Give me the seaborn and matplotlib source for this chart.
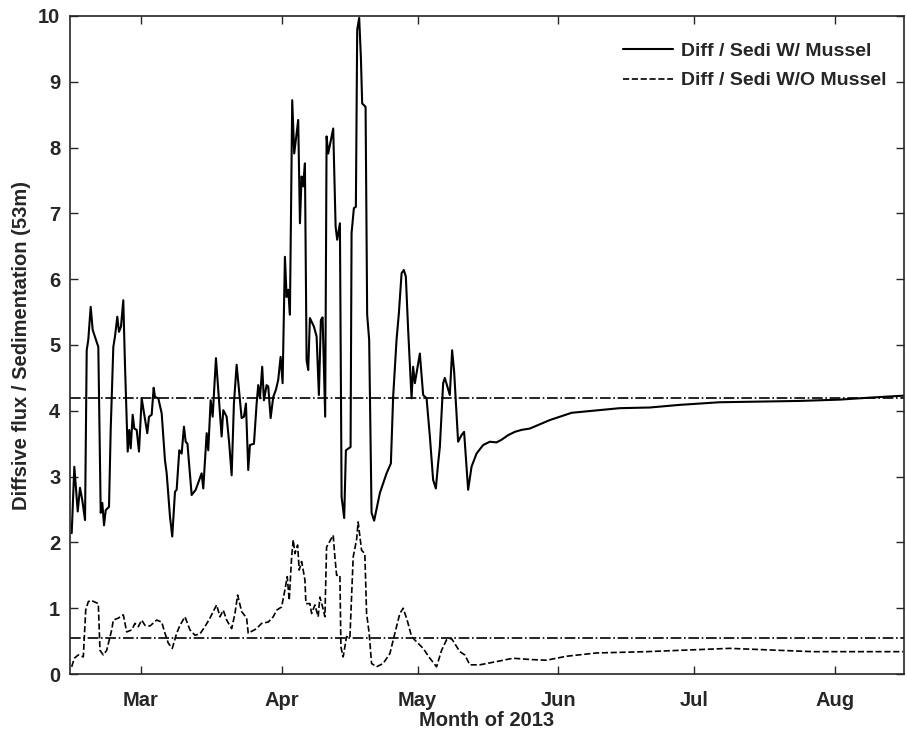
import matplotlib
matplotlib.use("Agg")
import matplotlib.pyplot as plt
import seaborn as sns
import pandas as pd

# day of year 2013 / ratio values
day_mussel = [44.72, 45.3, 46.05, 46.55, 47.06, 47.66, 48.03, 48.38, 48.91, 49.35,
              50.59, 51.12, 51.47, 51.85, 52.22, 52.95, 53.32, 53.9, 54.27, 54.78,
              55.15, 55.59, 56.1, 56.47, 57.07, 57.42, 57.73, 58.17, 58.53, 59.05,
              59.56, 60.16, 60.66, 61.39, 61.77, 62.36, 62.8, 63.09, 63.82, 64.57,
              65.29, 65.67, 66.4, 66.9, 67.5, 67.87, 68.45, 68.97, 69.48, 69.86,
              70.25, 71.18, 72.07, 73.38, 73.74, 74.49, 74.84, 75.37, 75.81, 76.54,
              77.79, 78.15, 78.9, 79.47, 80.0, 80.5, 81.1, 82.2, 82.71, 83.15,
              83.66, 84.03, 84.92, 85.51, 85.86, 86.24, 86.74, 87.12, 87.71, 88.07,
              88.6, 89.17, 89.76, 90.27, 90.8, 91.24, 91.75, 92.12, 92.48, 92.85,
              93.36, 93.8, 94.33, 94.68, 95.06, 95.43, 95.78, 96.16, 96.53, 96.89,
              97.26, 98.14, 98.74, 99.24, 99.68, 100.06, 100.63, 100.94, 101.3, 102.4,
              102.93, 103.28, 103.88, 104.25, 104.82, 105.2, 106.23, 106.45, 106.96, 107.4,
              107.69, 108.13, 108.5, 108.79, 109.54, 109.89, 110.33, 110.86, 111.43, 112.69,
              114.17, 115.12, 115.62, 116.37, 116.88, 117.48, 117.98, 118.42, 118.93, 119.68,
              120.03, 120.41, 121.51, 122.24, 122.99, 123.72, 124.44, 125.04, 125.54, 125.92,
              126.65, 127.02, 128.12, 128.63, 129.07, 129.95, 130.7, 131.27, 132.16, 132.91,
              134.01, 135.47, 136.94, 138.42, 139.52, 140.98, 142.45, 143.93, 145.76, 150.2,
              155.0, 165.6, 172.2, 178.8, 187.6, 196.5, 205.3, 214.1, 220.7, 228.2]
ratio_mussel = [2.14, 3.15, 2.47, 2.83, 2.64, 2.34, 4.92, 5.08, 5.58, 5.23,
                4.97, 2.45, 2.6, 2.26, 2.49, 2.54, 3.71, 4.97, 5.13, 5.43,
                5.2, 5.28, 5.68, 4.7, 3.38, 3.71, 3.43, 3.94, 3.73, 3.71,
                3.38, 4.19, 3.97, 3.66, 3.91, 3.94, 4.35, 4.21, 4.19, 3.96,
                3.25, 3.05, 2.39, 2.09, 2.77, 2.8, 3.4, 3.35, 3.76, 3.53,
                3.5, 2.72, 2.8, 3.05, 2.82, 3.66, 3.4, 4.16, 3.91, 4.8,
                3.61, 4.01, 3.91, 3.5, 3.02, 4.11, 4.7, 3.89, 3.91, 4.11,
                3.1, 3.48, 3.5, 4.11, 4.39, 4.19, 4.67, 4.16, 4.39, 4.37,
                3.89, 4.21, 4.32, 4.47, 4.82, 4.42, 6.34, 5.73, 5.84, 5.46,
                8.72, 7.91, 8.21, 8.42, 6.85, 7.56, 7.41, 7.76, 4.77, 4.62,
                5.41, 5.28, 5.13, 4.24, 5.38, 5.42, 3.91, 8.17, 7.91, 8.29,
                6.8, 6.6, 6.85, 2.69, 2.37, 3.4, 3.45, 6.7, 7.08, 7.1,
                9.79, 9.97, 9.38, 8.67, 8.62, 5.46, 5.08, 2.45, 2.33, 2.75,
                3.05, 3.2, 4.21, 5.08, 5.48, 6.09, 6.14, 6.04, 5.23, 4.19,
                4.67, 4.42, 4.87, 4.24, 4.19, 3.61, 2.95, 2.82, 3.2, 3.45,
                4.42, 4.5, 4.24, 4.92, 4.6, 3.53, 3.63, 3.68, 2.8, 3.15,
                3.35, 3.48, 3.53, 3.52, 3.56, 3.63, 3.68, 3.71, 3.73, 3.86,
                3.97, 4.04, 4.05, 4.09, 4.13, 4.14, 4.15, 4.17, 4.2, 4.23]

day_no_mussel = [44.72, 45.3, 46.18, 47.28, 47.81, 48.38, 48.98, 50.59, 50.96, 51.69,
                 52.44, 53.54, 53.9, 55.0, 56.1, 56.85, 57.95, 58.68, 59.41, 60.16,
                 60.88, 61.99, 63.46, 64.57, 65.29, 66.02, 66.9, 67.87, 68.6, 69.7,
                 70.81, 71.91, 73.01, 74.11, 75.21, 75.94, 76.69, 77.42, 78.15, 78.9,
                 80.0, 80.73, 81.32, 82.2, 83.3, 83.66, 85.51, 86.61, 88.07, 89.17,
                 89.92, 91.02, 91.75, 92.26, 92.7, 93.23, 93.58, 93.96, 94.55, 94.9,
                 95.43, 95.78, 96.16, 96.38, 97.26, 97.64, 98.36, 99.09, 99.46, 100.06,
                 100.57, 100.94, 102.4, 102.77, 103.15, 103.88, 104.1, 104.6, 105.35, 106.08,
                 106.81, 107.55, 107.9, 108.66, 109.38, 109.76, 110.33, 110.86, 111.96, 113.42,
                 114.9, 116.0, 117.1, 117.83, 118.71, 119.68, 120.78, 122.24, 123.72, 125.19,
                 126.3, 127.4, 128.5, 130.33, 131.43, 132.53, 134.74, 138.5, 142.08, 146.0,
                 149.44, 153.85, 160.46, 171.49, 182.51, 189.85, 197.2, 208.22, 219.24, 228.06]
ratio_no_mussel = [0.11, 0.24, 0.29, 0.26, 0.97, 1.1, 1.12, 1.07, 0.36, 0.29,
                   0.36, 0.67, 0.82, 0.85, 0.9, 0.64, 0.67, 0.77, 0.72, 0.82,
                   0.74, 0.73, 0.82, 0.79, 0.62, 0.47, 0.39, 0.62, 0.74, 0.87,
                   0.67, 0.59, 0.61, 0.72, 0.85, 0.95, 1.05, 0.87, 0.97, 0.82,
                   0.69, 0.92, 1.2, 0.95, 0.85, 0.62, 0.69, 0.77, 0.79, 0.87,
                   0.97, 1.02, 1.28, 1.48, 1.12, 1.78, 2.04, 1.83, 1.96, 1.58,
                   1.71, 1.58, 1.43, 1.07, 1.07, 0.92, 1.05, 0.87, 1.17, 1.02,
                   0.87, 1.93, 2.11, 1.78, 1.5, 1.5, 0.41, 0.26, 0.57, 0.55,
                   1.78, 2.04, 2.31, 1.88, 1.83, 0.92, 0.62, 0.16, 0.11, 0.16,
                   0.31, 0.62, 0.92, 1.0, 0.82, 0.57, 0.49, 0.39, 0.24, 0.11,
                   0.36, 0.52, 0.54, 0.34, 0.29, 0.14, 0.14, 0.19, 0.24, 0.22,
                   0.21, 0.27, 0.32, 0.34, 0.37, 0.39, 0.37, 0.34, 0.34, 0.34]

mean_mussel = 4.19
mean_no_mussel = 0.55

month_ticks = [60, 91, 121, 152, 182, 213]
month_labels = ["Mar", "Apr", "May", "Jun", "Jul", "Aug"]

df1 = pd.DataFrame({"day": day_mussel, "ratio": ratio_mussel})
df2 = pd.DataFrame({"day": day_no_mussel, "ratio": ratio_no_mussel})

sns.set_style("ticks")
plt.rcParams['font.family'] = ['Liberation Sans', 'DejaVu Sans']
plt.rcParams['font.weight'] = 'bold'
plt.rcParams['axes.labelweight'] = 'bold'

fig = plt.figure(figsize=(9.07, 7.36), dpi=100)
ax = fig.add_axes([0.0772, 0.0842, 0.9195, 0.8941])

sns.lineplot(data=df1, x="day", y="ratio", color="black", lw=1.5,
             estimator=None, label="Diff / Sedi W/ Mussel", ax=ax)
sns.lineplot(data=df2, x="day", y="ratio", color="black", lw=1.2, linestyle="--",
             estimator=None, label="Diff / Sedi W/O Mussel", ax=ax)
ax.axhline(mean_mussel, color="black", lw=1.2, linestyle="-.")
ax.axhline(mean_no_mussel, color="black", lw=1.2, linestyle="-.")

ax.set_xlim(44.35, 228.3)
ax.set_ylim(0, 10)
ax.set_xticks(month_ticks)
ax.set_xticklabels(month_labels)
ax.set_yticks(range(0, 11))
ax.tick_params(direction="in", top=True, right=True, labelsize=14.5, length=6, width=1)
for lab in ax.get_xticklabels() + ax.get_yticklabels():
    lab.set_fontweight("bold")
ax.tick_params(axis="x", pad=12)
ax.tick_params(axis="y", pad=7)
for s in ax.spines.values():
    s.set_linewidth(1.2)

ax.set_xlabel("Month of 2013", fontsize=14.5, fontweight="bold", labelpad=1)
ax.set_ylabel("Diffsive flux / Sedimentation (53m)", fontsize=14.5, fontweight="bold", labelpad=5)

leg = ax.legend(loc="upper right", bbox_to_anchor=(0.9976, 0.9833), frameon=False,
                fontsize=14, handlelength=2.6, handletextpad=0.4,
                borderaxespad=0.4, labelspacing=0.6)
for t in leg.get_texts():
    t.set_fontweight("bold")

fig.savefig("out.png", dpi=100)
